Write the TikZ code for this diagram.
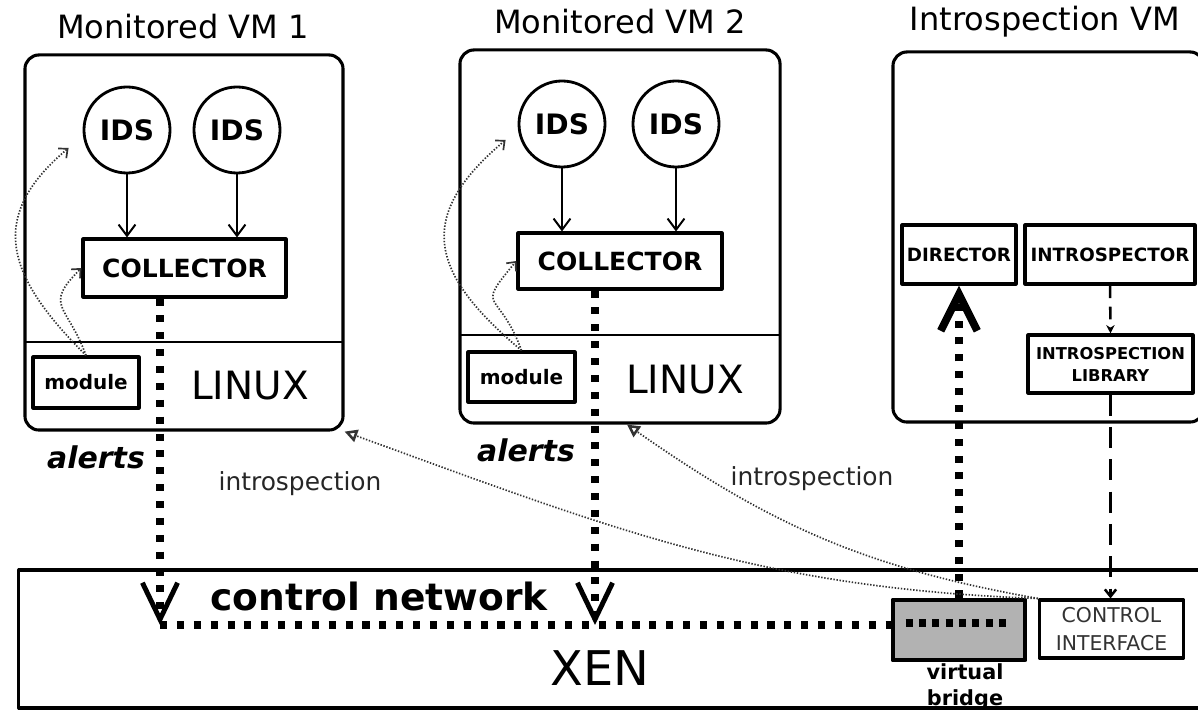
\documentclass[tikz,border=0pt]{standalone}
\usepackage{fontspec}
\setmainfont{DejaVu Sans}[ItalicFont={DejaVu Sans Oblique},BoldItalicFont={DejaVu Sans Bold Oblique}]
\usetikzlibrary{arrows.meta}
\begin{document}
\begin{tikzpicture}[x=0.025cm,y=0.025cm,line join=round,
  >={Straight Barb[length=8pt,width=12pt]},
  vmbox/.style={draw,line width=2.2pt,rounded corners=10pt,inner sep=0pt},
  ids/.style={draw,circle,line width=2pt,minimum size=2.15cm,inner sep=0pt,font=\bfseries\fontsize{20pt}{24pt}\selectfont},
  block/.style={draw,line width=2.2pt,inner sep=0pt},
  alert/.style={line width=5pt,dash pattern=on 5pt off 7pt},
  intro/.style={line width=1.2pt,dash pattern=on 1pt off 1.2pt,black!80,-{Triangle[open,length=9pt,width=9pt,line width=1.8pt]}},
  hook/.style={line width=1.2pt,dash pattern=on 1pt off 1.2pt,black!80,-{Straight Barb[length=5pt,width=9pt]}}]
\useasboundingbox (0,0) rectangle (1198,711);
% monitored VM 1
\node[vmbox,minimum width=7.95cm,minimum height=9.375cm] (vm1) at (184,468.5) {};
\node[font=\fontsize{22.8pt}{27pt}\selectfont] (vm1t) at (183,684) {Monitored VM 1};
\draw[line width=1.6pt] (25,369) -- (343,369);
\node[ids] (ids11) at (127,581) {IDS};
\node[ids] (ids12) at (237,581) {IDS};
\node[block,minimum width=5.075cm,minimum height=1.45cm,font=\bfseries\fontsize{17.8pt}{20pt}\selectfont] (col1) at (184.5,443) {COLLECTOR};
\node[block,minimum width=2.65cm,minimum height=1.275cm,font=\bfseries\fontsize{14.2pt}{17pt}\selectfont] (mod1) at (86,328.5) {module};
\node[font=\fontsize{27.7pt}{32pt}\selectfont] (lnx1) at (250,325) {LINUX};
\draw[->,line width=1.4pt] (ids11) -- (ids11 |- col1.north);
\draw[->,line width=1.4pt] (ids12) -- (ids12 |- col1.north);
\draw[hook] (mod1.north) to[out=135,in=-140,looseness=1.35] ([shift={(-14,-18)}]ids11.west);
\draw[hook] (mod1.north) to[out=110,in=-135,looseness=1.6] (col1.west);
% monitored VM 2
\node[vmbox,minimum width=8cm,minimum height=9.325cm] (vm2) at (620,474.5) {};
\node[font=\fontsize{22.8pt}{27pt}\selectfont] (vm2t) at (620,689) {Monitored VM 2};
\draw[line width=1.6pt] (460,376) -- (780,376);
\node[ids] (ids21) at (562,587) {IDS};
\node[ids] (ids22) at (676,587) {IDS};
\node[block,minimum width=5.1cm,minimum height=1.4cm,font=\bfseries\fontsize{17.8pt}{20pt}\selectfont] (col2) at (620,450) {COLLECTOR};
\node[block,minimum width=2.675cm,minimum height=1.25cm,font=\bfseries\fontsize{14.2pt}{17pt}\selectfont] (mod2) at (521.5,334) {module};
\node[font=\fontsize{27.7pt}{32pt}\selectfont] (lnx2) at (685,331) {LINUX};
\draw[->,line width=1.4pt] (ids21) -- (ids21 |- col2.north);
\draw[->,line width=1.4pt] (ids22) -- (ids22 |- col2.north);
\draw[hook] (mod2.north) to[out=140,in=-140,looseness=1.45] ([shift={(-12,-16)}]ids21.west);
\draw[hook] (mod2.north) to[out=110,in=-130,looseness=1.9] (col2.west);
% introspection VM
\node[vmbox,minimum width=7.775cm,minimum height=9.25cm] (ivm) at (1048.5,474) {};
\node[font=\fontsize{22.8pt}{27pt}\selectfont] (ivmt) at (1045,689) {Introspection VM};
\node[block,minimum width=2.85cm,minimum height=1.475cm,font=\bfseries\fontsize{13pt}{15pt}\selectfont] (dir) at (959,456.5) {DIRECTOR};
\node[block,minimum width=4.25cm,minimum height=1.475cm,font=\bfseries\fontsize{13pt}{15pt}\selectfont] (insp) at (1110,456.5) {INTROSPECTOR};
\node[block,align=center,minimum width=4.125cm,minimum height=1.45cm,font=\bfseries\fontsize{11.6pt}{15.6pt}\selectfont] (lib) at (1110.5,347) {INTROSPECTION\\LIBRARY};
% xen
\node[block,minimum width=30.05cm,minimum height=3.45cm] (xen) at (620,72) {};
\node[font=\fontsize{34pt}{40pt}\selectfont] (xenl) at (600,43) {XEN};
\node[font=\bfseries\fontsize{26.7pt}{30pt}\selectfont] (cnet) at (379,114) {control network};
\node[draw,line width=3.5pt,fill=black!30,minimum width=3.3cm,minimum height=1.5cm,inner sep=0pt] (bridge) at (959,81) {};
\draw[line width=5pt,dash pattern=on 5pt off 4.5pt] ([shift={(15,7)}]bridge.west) -- ([shift={(-18,7)}]bridge.east);
\node[font=\bfseries\fontsize{14.8pt}{18pt}\selectfont,align=center,anchor=north,inner sep=1pt] (vbl) at ([shift={(6,0)}]bridge.south) {virtual\\bridge};
\node[block,align=center,minimum width=3.6cm,minimum height=1.45cm,text=black!80,font=\fontsize{14.5pt}{20pt}\selectfont] (ci) at (1111.5,82) {CONTROL\\INTERFACE};
% control network and alerts
\coordinate (net1) at (160,86);
\coordinate (net2) at (595,86);
\draw[alert] (net1) -- (bridge.west |- net1);
\draw[alert,-{Straight Barb[length=26pt,width=25pt,line width=3.5pt]}] (col1.south -| net1) -- (net1);
\draw[alert,-{Straight Barb[length=26pt,width=25pt,line width=3.5pt]}] (col2.south -| net2) -- (net2);
\draw[alert,-{Straight Barb[length=26pt,width=26pt,line width=5.5pt]}] (bridge.north) -- (dir.south);
\draw[line width=1.8pt,dash pattern=on 9pt off 6pt,-{Stealth[length=6pt,width=6pt]}] (insp.south) -- (lib.north);
\draw[line width=1.8pt,dash pattern=on 15pt off 8pt,-{Straight Barb[length=5pt,width=8pt]}] (lib.south) -- (lib.south |- ci.north);
\node[font=\bfseries\itshape\fontsize{21.3pt}{25pt}\selectfont] (al1) at (96,254) {alerts};
\node[font=\bfseries\itshape\fontsize{21.3pt}{25pt}\selectfont] (al2) at (526,261) {alerts};
% introspection
\draw[intro] (ci.north west) to[out=178,in=-20] (vm1.south east);
\draw[intro] (ci.north west) to[out=170,in=-35] ([shift={(7,0)}]vm2.south);
\node[font=\fontsize{17.7pt}{21pt}\selectfont,text=black!85] (in1) at (300,227) {introspection};
\node[font=\fontsize{17.7pt}{21pt}\selectfont,text=black!85] (in2) at (812,232) {introspection};
\end{tikzpicture}
\end{document}
